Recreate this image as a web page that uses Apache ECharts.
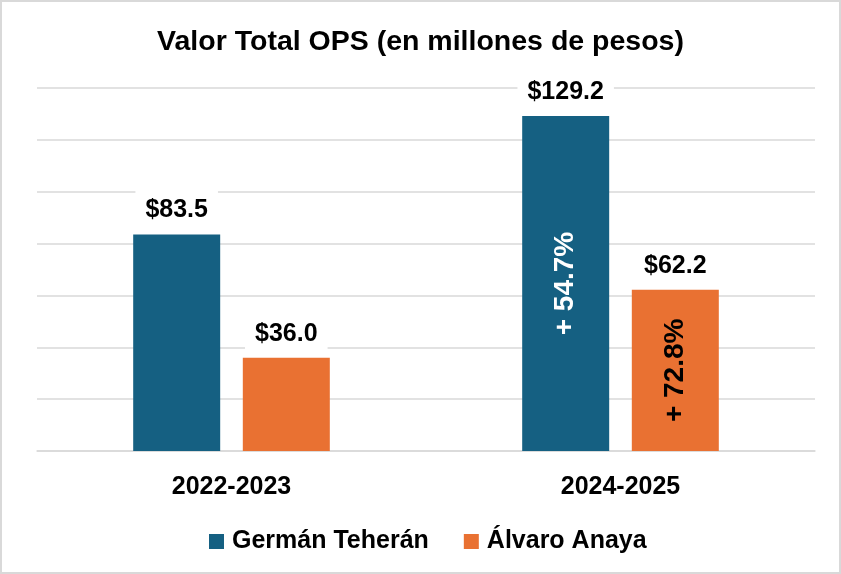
<!DOCTYPE html>
<html>
<head>
<meta charset="utf-8">
<script src="https://cdn.jsdelivr.net/npm/echarts@6/dist/echarts.min.js"></script>
<style>
  html, body { margin: 0; padding: 0; background: #fff; }
  #wrap { position: relative; width: 841px; height: 574px; }
  #chart { width: 841px; height: 574px; }
  #frame { position: absolute; left: 0; top: 0; width: 841px; height: 574px; box-sizing: border-box; border: 2px solid #d9d9d9; pointer-events: none; }
</style>
</head>
<body>
<div id="wrap"><div id="chart"></div><div id="frame"></div></div>
<script>
const categories = ['2022-2023', '2024-2025'];
const seriesNames = ['Germán Teherán', 'Álvaro Anaya'];
const germanValues = [83.5, 129.2];
const alvaroValues = [36.0, 62.2];
const germanGrowth = ['', '+ 54.7%'];
const alvaroGrowth = ['', '+ 72.8%'];
const yTicks = [0, 20, 40, 60, 80, 100, 120, 140];

const FONT = '"Liberation Sans", Arial, sans-serif';
const BLUE = '#156082';
const ORANGE = '#E97132';

function growthPoints(values, growth, color) {
  const pts = [];
  values.forEach(function (v, i) {
    if (growth[i]) {
      pts.push({
        coord: [categories[i], v / 2],
        label: { formatter: growth[i], color: color }
      });
    }
  });
  return pts;
}

function topLabel() {
  return {
    show: true,
    position: 'top',
    distance: 4,
    formatter: function (p) { return '$' + p.value.toFixed(1); },
    fontFamily: FONT,
    fontSize: 25,
    fontWeight: 'bold',
    color: '#000',
    backgroundColor: '#fff',
    padding: [7, 10],
    lineHeight: 26
  };
}

function markPointCfg(values, growth, color) {
  return {
    symbol: 'rect',
    symbolSize: 1,
    itemStyle: { color: 'rgba(0,0,0,0)' },
    label: {
      show: true,
      position: 'inside',
      rotate: 90,
      fontFamily: FONT,
      fontSize: 28,
      fontWeight: 'bold'
    },
    data: growthPoints(values, growth, color)
  };
}

const chart = echarts.init(document.getElementById('chart'), null, { renderer: 'canvas' });
chart.setOption({
  backgroundColor: '#fff',
  animation: false,
  title: {
    text: 'Valor Total OPS (en millones de pesos)',
    left: 'center',
    top: 23,
    textStyle: { fontFamily: FONT, fontSize: 28.5, fontWeight: 'bold', color: '#000' }
  },
  legend: {
    data: seriesNames,
    left: 204,
    top: 524,
    itemWidth: 15,
    itemHeight: 15,
    itemGap: 35,
    icon: 'rect',
    textStyle: { fontFamily: FONT, fontSize: 25, fontWeight: 'bold', color: '#000', padding: [0, 0, 0, 3] }
  },
  grid: { left: 37, right: 26, top: 88, bottom: 123 },
  xAxis: {
    type: 'category',
    data: categories,
    axisLine: { lineStyle: { color: '#d9d9d9', width: 1.5 } },
    axisTick: { show: false },
    axisLabel: { margin: 24, fontFamily: FONT, fontSize: 25, fontWeight: 'bold', color: '#000' }
  },
  yAxis: {
    type: 'value',
    min: yTicks[0],
    max: yTicks[yTicks.length - 1],
    interval: yTicks[1] - yTicks[0],
    axisLabel: { show: false },
    axisLine: { show: false },
    axisTick: { show: false },
    splitLine: { lineStyle: { color: '#d9d9d9', width: 1.5 } }
  },
  series: [
    {
      name: seriesNames[0],
      type: 'bar',
      data: germanValues,
      barWidth: 87,
      barGap: '26%',
      itemStyle: { color: BLUE },
      label: topLabel(),
      markPoint: markPointCfg(germanValues, germanGrowth, '#fff')
    },
    {
      name: seriesNames[1],
      type: 'bar',
      data: alvaroValues,
      barWidth: 87,
      barGap: '26%',
      itemStyle: { color: ORANGE },
      label: topLabel(),
      markPoint: markPointCfg(alvaroValues, alvaroGrowth, '#000')
    }
  ]
});
</script>
</body>
</html>
